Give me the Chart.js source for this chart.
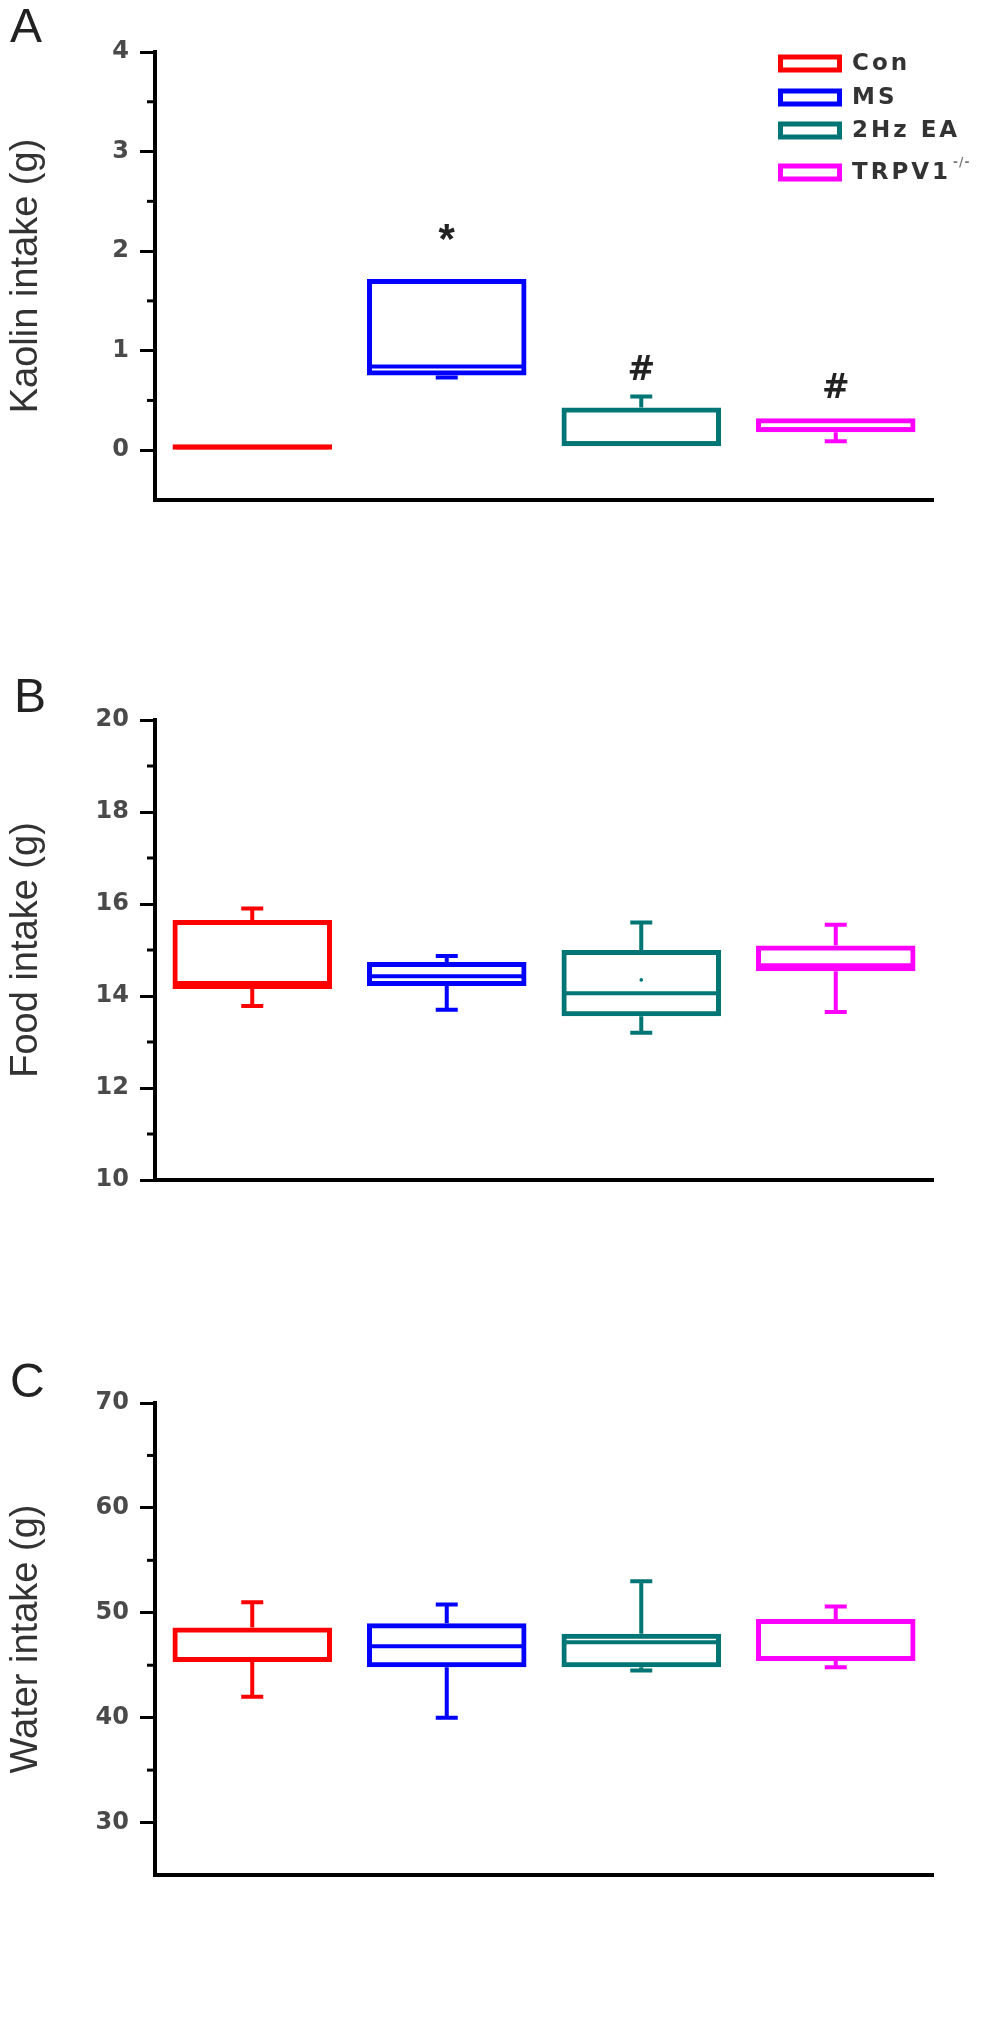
<!DOCTYPE html>
<html>
<head>
<meta charset="utf-8">
<script src="https://cdn.jsdelivr.net/npm/chart.js@4.4.1/dist/chart.umd.min.js"></script>
<style>
  html, body { margin: 0; padding: 0; background: #fff; }
  body { width: 1000px; height: 2025px; position: relative; overflow: hidden; }
  canvas { position: absolute; left: 0; }
</style>
</head>
<body>
<canvas id="kaolinChart" width="1000" height="560" style="top:0"></canvas>
<canvas id="foodChart" width="1000" height="560" style="top:660px"></canvas>
<canvas id="waterChart" width="1000" height="685" style="top:1340px"></canvas>
<script>
const groups = ["Con", "MS", "2Hz EA", "TRPV1"];
const groupColors = ["#ff0000", "#0000ff", "#007575", "#ff00ff"];

// A - kaolin intake (g)
const kaolinMin = [0.00, 0.73, 0.04, 0.09];
const kaolinQ1 = [0.00, 0.75, 0.04, 0.18];
const kaolinMedian = [0.03, 0.84, 0.07, 0.21];
const kaolinQ3 = [0.06, 1.72, 0.43, 0.32];
const kaolinMax = [0.06, 1.72, 0.54, 0.32];
const kaolinMarks = ["", "*", "#", "#"];
const kaolinMarkY = [null, 2.10, 0.79, 0.61];
const kaolinTicks = [0, 1, 2, 3, 4];
const kaolinMinor = [0.5, 1.5, 2.5, 3.5];

// B - food intake (g)
const foodMin = [13.78, 13.70, 13.20, 13.65];
const foodQ1 = [14.15, 14.22, 13.56, 14.54];
const foodMedian = [14.28, 14.43, 14.06, 14.67];
const foodQ3 = [15.65, 14.74, 15.00, 15.10];
const foodMax = [15.90, 14.87, 15.60, 15.55];
const foodMean = [null, null, 14.35, null];
const foodTicks = [10, 12, 14, 16, 18, 20];
const foodMinor = [11, 13, 15, 17, 19];

// C - water intake (g)
const waterMin = [42.0, 40.0, 44.5, 44.8];
const waterQ1 = [45.3, 44.8, 44.8, 45.4];
const waterMedian = [45.6, 46.8, 47.2, 45.7];
const waterQ3 = [48.6, 49.0, 48.0, 49.4];
const waterMax = [51.0, 50.8, 53.0, 50.6];
const waterTicks = [30, 40, 50, 60, 70];
const waterMinor = [35, 45, 55, 65];

// whiskers, medians, means and significance marks on top of the floating bars
const boxExtras = {
  id: "boxExtras",
  afterDatasetsDraw(chart, args, opts) {
    const { ctx, scales: { x, y } } = chart;
    const meta = chart.getDatasetMeta(0);
    const data = chart.data.datasets[0].data;
    ctx.save();
    ctx.lineWidth = 4;
    opts.median.forEach((m, i) => {
      const cx = x.getPixelForValue(i);
      const half = meta.data[i].width / 2;
      ctx.strokeStyle = groupColors[i];
      ctx.fillStyle = groupColors[i];
      const ym = y.getPixelForValue(m);
      ctx.beginPath();
      ctx.moveTo(cx - half + 3, ym);
      ctx.lineTo(cx + half - 3, ym);
      ctx.stroke();
      const [q1, q3] = data[i];
      if (opts.max[i] > q3) {
        const yt = y.getPixelForValue(opts.max[i]);
        ctx.beginPath();
        ctx.moveTo(cx, y.getPixelForValue(q3));
        ctx.lineTo(cx, yt);
        ctx.moveTo(cx - 11, yt);
        ctx.lineTo(cx + 11, yt);
        ctx.stroke();
      }
      if (opts.min[i] < q1) {
        const yb = y.getPixelForValue(opts.min[i]);
        ctx.beginPath();
        ctx.moveTo(cx, y.getPixelForValue(q1));
        ctx.lineTo(cx, yb);
        ctx.moveTo(cx - 11, yb);
        ctx.lineTo(cx + 11, yb);
        ctx.stroke();
      }
      if (opts.mean && opts.mean[i] != null) {
        ctx.beginPath();
        ctx.arc(cx, y.getPixelForValue(opts.mean[i]), 1.8, 0, Math.PI * 2);
        ctx.fill();
      }
      if (opts.marks && opts.marks[i]) {
        ctx.fillStyle = "#222";
        ctx.textAlign = "center";
        ctx.textBaseline = "middle";
        ctx.font = opts.marks[i] === "*" ? "bold 42px 'Liberation Sans'" : "bold 33px 'DejaVu Sans'";
        ctx.fillText(opts.marks[i], cx, y.getPixelForValue(opts.markY[i]));
      }
    });
    ctx.restore();
  }
};

// short minor ticks between the labelled ones
const minorTicks = {
  id: "minorTicks",
  afterDraw(chart, args, opts) {
    const { ctx, chartArea, scales: { y } } = chart;
    ctx.save();
    ctx.strokeStyle = "#000";
    ctx.lineWidth = 3;
    opts.values.forEach(v => {
      const py = y.getPixelForValue(v);
      ctx.beginPath();
      ctx.moveTo(chartArea.left - 8, py);
      ctx.lineTo(chartArea.left, py);
      ctx.stroke();
    });
    ctx.restore();
  }
};

const panelLetter = {
  id: "panelLetter",
  afterDraw(chart, args, opts) {
    const { ctx } = chart;
    ctx.save();
    ctx.fillStyle = "#222";
    ctx.font = "48px 'Liberation Sans'";
    ctx.textBaseline = "alphabetic";
    ctx.fillText(opts.text, opts.x, opts.y);
    ctx.restore();
  }
};

// legend of panel A
const groupLegend = {
  id: "groupLegend",
  afterDraw(chart, args, opts) {
    if (!opts.show) return;
    const { ctx, chartArea } = chart;
    const left = chartArea.right - 155;
    const rows = [11, 45, 78, 120];
    ctx.save();
    groups.forEach((g, i) => {
      const top = chartArea.top + rows[i];
      ctx.strokeStyle = groupColors[i];
      ctx.lineWidth = 5;
      ctx.strokeRect(left + 2.5, top - 8.5 + 2.5, 59, 13);
      ctx.fillStyle = "#333";
      ctx.font = "bold 23px 'DejaVu Sans'";
      ctx.letterSpacing = "3px";
      ctx.textBaseline = "middle";
      ctx.fillText(g, left + 74, top + 1);
      if (g === "TRPV1") {
        const w = ctx.measureText(g).width;
        ctx.font = "bold 12px 'DejaVu Sans'";
        ctx.letterSpacing = "1px";
        ctx.fillStyle = "#777";
        ctx.fillText("-/-", left + 74 + w + 2, top - 9);
      }
    });
    ctx.restore();
  }
};

function makeChart(id, cfg) {
  const canvas = document.getElementById(id);
  return new Chart(canvas.getContext("2d"), {
    type: "bar",
    data: {
      labels: groups,
      datasets: [{
        data: cfg.q1.map((v, i) => [v, cfg.q3[i]]),
        backgroundColor: "rgba(255,255,255,0)",
        borderColor: groupColors,
        borderWidth: 5,
        borderSkipped: false,
        barPercentage: 0.82,
        categoryPercentage: 1
      }]
    },
    options: {
      responsive: false,
      animation: false,
      layout: { padding: { left: 0, right: 67, top: cfg.top, bottom: canvas.height - cfg.bottom } },
      plugins: {
        legend: { display: false },
        tooltip: { enabled: false },
        boxExtras: { min: cfg.min, max: cfg.max, median: cfg.median, mean: cfg.mean, marks: cfg.marks, markY: cfg.markY },
        minorTicks: { values: cfg.minor },
        panelLetter: cfg.letter,
        groupLegend: { show: !!cfg.legend }
      },
      scales: {
        x: {
          offset: true,
          grid: { display: false, drawTicks: false },
          border: { display: true, color: "#000", width: 4 },
          ticks: { display: false },
          afterFit(s) { s.height = 0; }
        },
        y: {
          min: cfg.yMin,
          max: cfg.yMax,
          afterBuildTicks(s) { s.ticks = cfg.ticks.map(v => ({ value: v })); },
          afterFit(s) { s.width = 155; },
          grid: { drawOnChartArea: false, drawTicks: true, tickLength: 15, tickWidth: 3, tickColor: "#000" },
          border: { color: "#000", width: 4 },
          ticks: { color: "#4a4a4a", padding: 11, font: { family: "DejaVu Sans", size: 24, weight: "bold" } },
          title: {
            display: true,
            text: cfg.title,
            color: "#333",
            padding: { top: 4, bottom: 0 },
            font: { family: "Liberation Sans", size: 38 }
          }
        }
      }
    },
    plugins: [boxExtras, minorTicks, panelLetter, groupLegend]
  });
}

makeChart("kaolinChart", {
  q1: kaolinQ1, q3: kaolinQ3, min: kaolinMin, max: kaolinMax, median: kaolinMedian,
  marks: kaolinMarks, markY: kaolinMarkY,
  ticks: kaolinTicks, minor: kaolinMinor, yMin: -0.5, yMax: 4,
  title: "Kaolin intake (g)", top: 52, bottom: 500,
  letter: { text: "A", x: 10, y: 42 }, legend: true
});

makeChart("foodChart", {
  q1: foodQ1, q3: foodQ3, min: foodMin, max: foodMax, median: foodMedian, mean: foodMean,
  ticks: foodTicks, minor: foodMinor, yMin: 10, yMax: 20,
  title: "Food intake (g)", top: 60, bottom: 520,
  letter: { text: "B", x: 14, y: 52 }
});

makeChart("waterChart", {
  q1: waterQ1, q3: waterQ3, min: waterMin, max: waterMax, median: waterMedian,
  ticks: waterTicks, minor: waterMinor, yMin: 25, yMax: 70,
  title: "Water intake (g)", top: 63, bottom: 535,
  letter: { text: "C", x: 10, y: 57 }
});
</script>
</body>
</html>
